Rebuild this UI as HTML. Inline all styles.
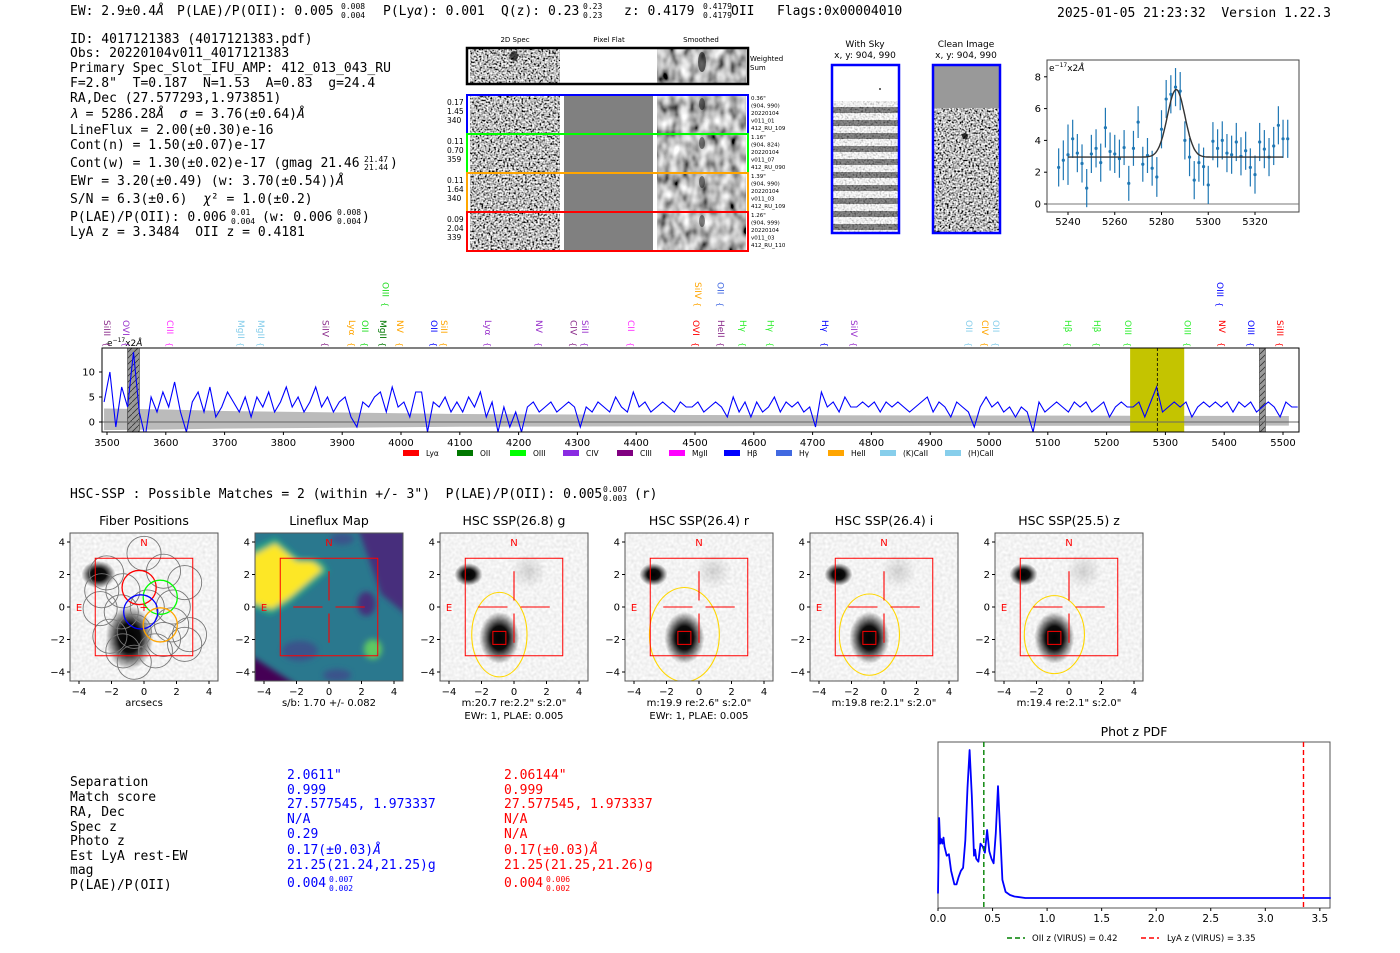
<!DOCTYPE html>
<html><head><meta charset="utf-8"><title>Detection 4017121383</title>
<style>
html,body{margin:0;padding:0;background:#fff;}
svg{display:block;}
.m{font-family:"DejaVu Sans Mono","Liberation Mono",monospace;font-size:13px;fill:#000;white-space:pre;}
.m.t{font-size:8px;}
.s{font-family:"DejaVu Sans","Liberation Sans",sans-serif;}
</style></head>
<body>
<svg id="root" width="1400" height="953" viewBox="0 0 1400 953" xmlns="http://www.w3.org/2000/svg" xml:space="preserve">
<defs>
<filter id="noise" x="0" y="0" width="100%" height="100%"><feTurbulence type="fractalNoise" baseFrequency="0.55" numOctaves="1" seed="4"/><feColorMatrix type="saturate" values="0"/><feComponentTransfer><feFuncR type="linear" slope="3.6" intercept="-1.3"/><feFuncG type="linear" slope="3.6" intercept="-1.3"/><feFuncB type="linear" slope="3.6" intercept="-1.3"/><feFuncA type="linear" slope="0" intercept="1"/></feComponentTransfer></filter>
<filter id="smooth" x="0" y="0" width="100%" height="100%"><feTurbulence type="fractalNoise" baseFrequency="0.1 0.07" numOctaves="2" seed="7"/><feColorMatrix type="saturate" values="0"/><feComponentTransfer><feFuncR type="linear" slope="2.2" intercept="-0.6"/><feFuncG type="linear" slope="2.2" intercept="-0.6"/><feFuncB type="linear" slope="2.2" intercept="-0.6"/><feFuncA type="linear" slope="0" intercept="1"/></feComponentTransfer></filter>
<filter id="light" x="0" y="0" width="100%" height="100%"><feTurbulence type="fractalNoise" baseFrequency="0.35" numOctaves="1" seed="2"/><feColorMatrix type="saturate" values="0"/><feComponentTransfer><feFuncR type="linear" slope="0.4" intercept="0.7"/><feFuncG type="linear" slope="0.4" intercept="0.7"/><feFuncB type="linear" slope="0.4" intercept="0.7"/><feFuncA type="linear" slope="0" intercept="1"/></feComponentTransfer></filter>
<filter id="blur3"><feGaussianBlur stdDeviation="3"/></filter>
<radialGradient id="blob"><stop offset="0" stop-color="#000"/><stop offset="0.45" stop-color="#000" stop-opacity="0.95"/><stop offset="1" stop-color="#000" stop-opacity="0"/></radialGradient>
<radialGradient id="dot"><stop offset="0" stop-color="#000"/><stop offset="1" stop-color="#000" stop-opacity="0"/></radialGradient>
<pattern id="stripes" width="10" height="13" patternUnits="userSpaceOnUse"><rect width="10" height="13" fill="#fff"/><rect y="3" width="10" height="6" fill="#555"/></pattern>
<pattern id="hatch" width="6" height="6" patternUnits="userSpaceOnUse"><rect width="6" height="6" fill="#999"/><path d="M0,6 L6,0" stroke="#333" stroke-width="0.8"/></pattern>
<clipPath id="specclip"><rect x="102" y="348" width="1197" height="84"/></clipPath>
<clipPath id="fitclip"><rect x="1047" y="60" width="252" height="152"/></clipPath>
</defs>

<g>
<text class="m" x="70" y="15">EW: 2.9±0.4<tspan font-style="italic">Å</tspan></text>
<text class="m" x="177" y="15">P(LAE)/P(OII): 0.005</text>
<text class="m t" x="341" y="9">0.008</text><text class="m t" x="341" y="18">0.004</text>
<text class="m" x="383" y="15">P(Ly<tspan font-style="italic">α</tspan>): 0.001</text>
<text class="m" x="501" y="15">Q(z): 0.23</text>
<text class="m t" x="583" y="9">0.23</text><text class="m t" x="583" y="18">0.23</text>
<text class="m" x="624" y="15">z: 0.4179</text>
<text class="m t" x="703" y="9">0.4179</text><text class="m t" x="703" y="18">0.4179</text>
<text class="m" x="731" y="15">OII</text>
<text class="m" x="777" y="15">Flags:0x00004010</text>
<text class="m" x="1057" y="17">2025-01-05 21:23:32  Version 1.22.3</text>
</g>

<g>
<text class="m" x="70" y="43">ID: 4017121383 (4017121383.pdf)</text>
<text class="m" x="70" y="57">Obs: 20220104v011_4017121383</text>
<text class="m" x="70" y="72">Primary Spec_Slot_IFU_AMP: 412_013_043_RU</text>
<text class="m" x="70" y="87">F=2.8"  T=0.187  N=1.53  A=0.83  g=24.4</text>
<text class="m" x="70" y="102">RA,Dec (27.577293,1.973851)</text>
<text class="m" x="70" y="118"><tspan font-style="italic">λ</tspan> = 5286.28<tspan font-style="italic">Å</tspan>  <tspan font-style="italic">σ</tspan> = 3.76(±0.64)<tspan font-style="italic">Å</tspan></text>
<text class="m" x="70" y="134">LineFlux = 2.00(±0.30)e-16</text>
<text class="m" x="70" y="149">Cont(n) = 1.50(±0.07)e-17</text>
<text class="m" x="70" y="167">Cont(w) = 1.30(±0.02)e-17 (gmag 21.46</text>
<text class="m t" x="364" y="162">21.47</text><text class="m t" x="364" y="170">21.44</text><text class="m" x="390" y="167">)</text>
<text class="m" x="70" y="185">EWr = 3.20(±0.49) (w: 3.70(±0.54))<tspan font-style="italic">Å</tspan></text>
<text class="m" x="70" y="203">S/N = 6.3(±0.6)  <tspan font-style="italic">χ</tspan>² = 1.0(±0.2)</text>
<text class="m" x="70" y="221">P(LAE)/P(OII): 0.006</text>
<text class="m t" x="231" y="215">0.01</text><text class="m t" x="231" y="224">0.004</text>
<text class="m" x="262" y="221">(w: 0.006</text>
<text class="m t" x="337" y="215">0.008</text><text class="m t" x="337" y="224">0.004</text><text class="m" x="362" y="221">)</text>
<text class="m" x="70" y="236">LyA z = 3.3484  OII z = 0.4181</text>
</g>

<g class="s">
<text x="515" y="42" font-size="7" text-anchor="middle">2D Spec</text>
<text x="609" y="42" font-size="7" text-anchor="middle">Pixel Flat</text>
<text x="701" y="42" font-size="7" text-anchor="middle">Smoothed</text>
<g>
<rect x="470" y="49" width="90" height="34" fill="#fff" filter="url(#noise)"/>
<rect x="657" y="49" width="89" height="34" fill="#fff" filter="url(#smooth)"/>
<ellipse cx="514" cy="56" rx="4" ry="5" fill="#000" opacity="0.7"/>
<ellipse cx="702" cy="62" rx="4" ry="10" fill="#000" opacity="0.55"/>
<rect x="467" y="48" width="281" height="36" fill="none" stroke="#000" stroke-width="2.5"/>
<text x="750" y="61" font-size="7">Weighted</text><text x="750" y="70" font-size="7">Sum</text>
</g>
<g id="rows"></g>
</g>

<g class="s">
<text x="865" y="47" font-size="9" text-anchor="middle">With Sky</text>
<text x="865" y="58" font-size="9" text-anchor="middle">x, y: 904, 990</text>
<rect x="832" y="65" width="67" height="168" fill="#fff"/>
<rect x="832" y="101" width="67" height="132" fill="url(#stripes)" opacity="0.9"/>
<rect x="832" y="101" width="67" height="132" fill="#fff" filter="url(#noise)" opacity="0.25"/>
<circle cx="880" cy="89" r="0.9" fill="#000"/>
<rect x="832" y="65" width="67" height="168" fill="none" stroke="#0000ff" stroke-width="2.5"/>
</g>
<g class="s">
<text x="966" y="47" font-size="9" text-anchor="middle">Clean Image</text>
<text x="966" y="58" font-size="9" text-anchor="middle">x, y: 904, 990</text>
<rect x="933" y="65" width="67" height="168" fill="#fff" filter="url(#noise)"/>
<rect x="933" y="65" width="67" height="43" fill="#999"/>
<circle cx="965" cy="136" r="3" fill="#000" opacity="0.8"/>
<rect x="933" y="65" width="67" height="168" fill="none" stroke="#0000ff" stroke-width="2.5"/>
</g>

<g class="s">
<rect x="1047" y="60" width="252" height="152" fill="#fff" stroke="#444" stroke-width="1"/>
<text x="1049" y="71" font-size="9">e<tspan font-size="6" dy="-4">−17</tspan><tspan dy="4">x2</tspan><tspan font-style="italic">Å</tspan></text>
<g id="fit"></g>
</g>

<g class="s">
<rect x="102" y="348" width="1197" height="84" fill="#fff"/>
<g id="spec" clip-path="url(#specclip)"></g>
<rect x="102" y="348" width="1197" height="84" fill="none" stroke="#000" stroke-width="1"/>
<text x="107" y="346" font-size="9">e<tspan font-size="6" dy="-4">−17</tspan><tspan dy="4">x2</tspan><tspan font-style="italic">Å</tspan></text>
<g id="speclabels"></g>
<g id="legend"></g>
</g>

<text class="m" x="70" y="498">HSC-SSP : Possible Matches = 2 (within +/- 3")  P(LAE)/P(OII): 0.005</text>
<text class="m t" x="603" y="492">0.007</text><text class="m t" x="603" y="501">0.003</text><text class="m" x="634" y="498">(r)</text>

<g id="cutouts" class="s"></g>

<g>
<text class="m" x="70" y="786">Separation</text>
<text class="m" x="70" y="801">Match score</text>
<text class="m" x="70" y="816">RA, Dec</text>
<text class="m" x="70" y="831">Spec z</text>
<text class="m" x="70" y="845">Photo z</text>
<text class="m" x="70" y="860">Est LyA rest-EW</text>
<text class="m" x="70" y="874">mag</text>
<text class="m" x="70" y="889">P(LAE)/P(OII)</text>
<g>
<text class="m" style="fill:#00f" x="287" y="779">2.0611"</text>
<text class="m" style="fill:#00f" x="287" y="794">0.999</text>
<text class="m" style="fill:#00f" x="287" y="808">27.577545, 1.973337</text>
<text class="m" style="fill:#00f" x="287" y="823">N/A</text>
<text class="m" style="fill:#00f" x="287" y="838">0.29</text>
<text class="m" style="fill:#00f" x="287" y="854">0.17(±0.03)<tspan font-style="italic">Å</tspan></text>
<text class="m" style="fill:#00f" x="287" y="869">21.25(21.24,21.25)g</text>
<text class="m" style="fill:#00f" x="287" y="887">0.004</text>
<text class="m t" style="fill:#00f" x="329" y="882">0.007</text><text class="m t" style="fill:#00f" x="329" y="891">0.002</text>
</g>
<g>
<text class="m" style="fill:#f00" x="504" y="779">2.06144"</text>
<text class="m" style="fill:#f00" x="504" y="794">0.999</text>
<text class="m" style="fill:#f00" x="504" y="808">27.577545, 1.973337</text>
<text class="m" style="fill:#f00" x="504" y="823">N/A</text>
<text class="m" style="fill:#f00" x="504" y="838">N/A</text>
<text class="m" style="fill:#f00" x="504" y="854">0.17(±0.03)<tspan font-style="italic">Å</tspan></text>
<text class="m" style="fill:#f00" x="504" y="869">21.25(21.25,21.26)g</text>
<text class="m" style="fill:#f00" x="504" y="887">0.004</text>
<text class="m t" style="fill:#f00" x="546" y="882">0.006</text><text class="m t" style="fill:#f00" x="546" y="891">0.002</text>
</g>
</g>

<g class="s">
<text x="1134" y="736" font-size="12.5" text-anchor="middle">Phot z PDF</text>
<rect x="938" y="742" width="392" height="166" fill="#fff" stroke="#555" stroke-width="1"/>
<g id="pdf"></g>
</g>
</svg>

<script>
const NS='http://www.w3.org/2000/svg';
function el(tag,parent){const e=document.createElementNS(NS,tag);parent.appendChild(e);return e;}
function sa(e,o){for(const k in o)e.setAttribute(k,o[k]);return e;}

// ---------- Spectrum data ----------
const specStart=3495, specStep=10;
const specFlux=[
4,10,-1,7,3,14,2,-3,5,2,
6,3,8,2,-2,4,6,2,7,1,
3,6,4,2,5,1,5,3,6,2,
4,7,3,5,2,4,7,3,5,2,
4,5,1,-1,4,3,5,6,2,7,
3,4,1,6,6,-2,4,3,5,2,
4,2,5,3,6,1,4,-2,3,-1,
2,-2,3,4,2,3,4,2,3,4,
3,-1,3,2,4,3,2,5,3,2,
6,3,4,2,3,4,3,2,4,3,
3,4,2,3,4,3,1,5,2,4,
1,4,2,3,5,2,4,3,4,2,
3,-1,6,3,4,2,5,3,3,4,
3,4,2,4,3,4,3,2,3,4,
5,2,4,3,1,4,3,2,-1,3,
5,3,4,2,3,1,3,2,-2,4,
2,3,4,3,2,4,3,4,2,3,
4,1,3,4,3,3,4,1,4,7,
2,3,4,3,4,1,3,4,3,4,
3,4,2,4,3,4,2,3,4,3,
1,4,3,3];
const errWave=[3495,3600,3700,3900,4100,4500,5000,5510];
const errVal=[2.7,2.5,2.2,1.9,1.6,1.4,1.3,1.2];
const specTicks=[3500,3600,3700,3800,3900,4000,4100,4200,4300,4400,4500,4600,4700,4800,4900,5000,5100,5200,5300,5400,5500];
const specYTicks=[0,5,10];
const lineName=['SiIII','OVI','CIII','MgII','MgII','SiIV','Lyα','OII','MgII','NV','OII','SiII','Lyα','NV','CIV','SiII','CII','OVI','HeII','Hγ','Hγ','Hγ','SiIV','OII','CIV','OII','Hβ','Hβ','OIII','OIII','NV','OIII','SiIII','OIII','SiIV','OII','OIII'];
const lineWave=[3500,3532,3607,3728,3762,3872,3917,3939,3969,3998,4056,4073,4148,4235,4293,4313,4391,4502,4544,4582,4628,4721,4770,4966,4993,5012,5134,5184,5236,5338,5396,5446,5495,3974,4505,4543,5393];
const lineColor=['#8b2c8b','#9932cc','#ff33ff','#87ceeb','#87ceeb','#8b2c8b','#ffa500','#22dd22','#007700','#ffa500','#0000ff','#ffa500','#9932cc','#9932cc','#8b2c8b','#9932cc','#ff33ff','#ff0000','#8b2c8b','#33ee33','#33ee33','#0000ff','#9932cc','#87ceeb','#ffa500','#87ceeb','#33ee33','#33ee33','#33ee33','#33ee33','#ff0000','#0000ff','#ff0000','#22dd22','#ffa500','#4169e1','#0000ff'];
const lineRow=[0,0,0,0,0,0,0,0,0,0,0,0,0,0,0,0,0,0,0,0,0,0,0,0,0,0,0,0,0,0,0,0,0,1,1,1,1];
const legendNames=['Lyα','OII','OIII','CIV','CIII','MgII','Hβ','Hγ','HeII','(K)CaII','(H)CaII'];
const legendColors=['#ff0000','#007700','#00ff00','#8a2be2','#800080','#ff00ff','#0000ff','#4169e1','#ffa500','#87ceeb','#87ceeb'];
const fitBand=[5240,5332], lineCenter=5286.28;
const maskBands=[[3535,3555],[5460,5470]];

const sx=w=>107+(w-3500)*0.588, sy=v=>422-5*v;
const spec=document.getElementById('spec');
let d='';
for(let i=0;i<errWave.length;i++)d+=(i?'L':'M')+sx(errWave[i])+','+sy(errVal[i]);
for(let i=errWave.length-1;i>=0;i--)d+='L'+sx(errWave[i])+','+sy(-errVal[i]*0.6);
let e=sa(el('path',spec),{d:d+'Z',fill:'#bbb'});

e=sa(el('rect',spec),{x:sx(fitBand[0]),y:348,width:sx(fitBand[1])-sx(fitBand[0]),height:84,fill:'#c4c400'});

maskBands.forEach(b=>{const r=sa(el('rect',spec),{x:sx(b[0]),y:348,width:sx(b[1])-sx(b[0]),height:84,fill:'url(#hatch)',stroke:'#333','stroke-width':0.6});
});
e=sa(el('line',spec),{x1:102,x2:1299,y1:sy(0),y2:sy(0),stroke:'#666','stroke-width':1});

d=specFlux.map((v,i)=>(i?'L':'M')+sx(specStart+i*specStep).toFixed(1)+','+sy(v).toFixed(1)).join('');
e=sa(el('path',spec),{d:d,fill:'none',stroke:'#0000ff','stroke-width':1.1});

e=sa(el('line',spec),{x1:sx(lineCenter),x2:sx(lineCenter),y1:348,y2:432,stroke:'#000','stroke-width':0.8,'stroke-dasharray':'3,2'});

const sg=spec.parentNode;
specTicks.forEach(t=>{const l=sa(el('line',sg),{x1:sx(t),x2:sx(t),y1:432,y2:435,stroke:'#000'});

const tx=sa(el('text',sg),{x:sx(t),y:446,'font-size':10,'text-anchor':'middle'});tx.textContent=t;
});
specYTicks.forEach(t=>{const l=sa(el('line',sg),{x1:99,x2:102,y1:sy(t),y2:sy(t),stroke:'#000'});

const tx=sa(el('text',sg),{x:95,y:sy(t)+3.5,'font-size':10,'text-anchor':'end'});tx.textContent=t;
});
const lab=document.getElementById('speclabels');
lineName.forEach((n,i)=>{const x=sx(lineWave[i]);const y0=lineRow[i]?282:320;
const t=sa(el('text',lab),{x:0,y:0,'font-size':9,fill:lineColor[i],transform:`translate(${x-3},${y0}) rotate(90)`});t.textContent=n;

const b=sa(el('text',lab),{x:0,y:0,'font-size':8,fill:lineColor[i],transform:`translate(${x-3},${y0+(lineRow[i]?20:22)}) rotate(90)`});b.textContent='{';
});
const leg=document.getElementById('legend');
const legX=[403,457,510,563,617,669,724,776,828,880,945];
legendNames.forEach((n,i)=>{const r=sa(el('rect',leg),{x:legX[i],y:450,width:16,height:6,fill:legendColors[i]});

const t=sa(el('text',leg),{x:legX[i]+23,y:456,'font-size':7.5});t.textContent=n;
});

// ---------- Fit chart ----------
const fitWave=[5236,5238,5240,5242,5244,5246,5248,5250,5252,5254,5256,5258,5260,5262,5264,5266,5268,5270,5272,5274,5276,5278,5280,5282,5284,5286,5288,5290,5292,5294,5296,5298,5300,5302,5304,5306,5308,5310,5312,5314,5316,5318,5320,5322,5324,5326,5328,5330,5332,5334];
const fitFlux=[2.3,2.75,3.1,4.1,3.2,2.55,1.0,3.15,3.5,2.6,4.8,3.3,3.15,2.85,3.55,1.3,3.5,5.15,2.5,3.05,2.25,1.7,4.7,6.6,6.9,7.35,7.1,4.0,2.95,1.5,2.6,2.35,1.2,3.95,3.5,4.0,3.2,3.1,3.9,3.0,3.35,2.3,1.85,3.9,3.45,2.95,3.65,4.95,4.1,4.1];
const fitErr=[1.2,1.25,1.9,1.2,1.2,1.2,1.2,1.2,1.2,1.2,1.25,1.2,1.2,1.2,1.1,1.1,1.1,1.0,1.1,1.1,1.1,1.25,1.2,1.2,1.2,1.2,1.2,1.2,1.2,1.2,1.2,1.2,1.2,1.2,1.2,1.2,1.2,1.2,1.2,1.2,1.2,1.2,1.2,1.2,1.2,1.2,1.2,1.2,1.2,1.2];
const modelCont=2.95, modelAmp=4.25, modelSigma=3.76;
const fitXTicks=[5240,5260,5280,5300,5320], fitYTicks=[0,2,4,6,8];
const fx=w=>1068+(w-5240)*2.3375, fy=v=>204-15.9*v;
const fit=document.getElementById('fit');
e=sa(el('line',fit),{x1:1047,x2:1299,y1:fy(0),y2:fy(0),stroke:'#777','stroke-width':1});

fitWave.forEach((w,i)=>{const l=sa(el('line',fit),{x1:fx(w),x2:fx(w),y1:fy(fitFlux[i]-fitErr[i]),y2:fy(fitFlux[i]+fitErr[i]),stroke:'#1f77b4','stroke-width':1.2,'clip-path':'url(#fitclip)'});

const c=sa(el('circle',fit),{cx:fx(w),cy:fy(fitFlux[i]),r:1.6,fill:'#1f77b4'});
});
d='';for(let w=fitBand[0],k=0;w<=fitBand[1];w+=0.5,k++){const v=modelCont+modelAmp*Math.exp(-((w-lineCenter)**2)/(2*modelSigma**2));d+=(k?'L':'M')+fx(w).toFixed(1)+','+fy(v).toFixed(1);}
e=sa(el('path',fit),{d:d,fill:'none',stroke:'#333','stroke-width':1.4});

fitXTicks.forEach(t=>{const l=sa(el('line',fit),{x1:fx(t),x2:fx(t),y1:212,y2:215,stroke:'#000'});

const tx=sa(el('text',fit),{x:fx(t),y:225,'font-size':10,'text-anchor':'middle'});tx.textContent=t;
});
fitYTicks.forEach(t=>{const l=sa(el('line',fit),{x1:1044,x2:1047,y1:fy(t),y2:fy(t),stroke:'#000'});

const tx=sa(el('text',fit),{x:1041,y:fy(t)+3.5,'font-size':10,'text-anchor':'end'});tx.textContent=t;
});

// ---------- 2D spec rows ----------
const rowColors=['#0000ff','#00ff00','#ffa500','#ff0000'];
const rowLeft=[['0.17','1.45','340'],['0.11','0.70','359'],['0.11','1.64','340'],['0.09','2.04','339']];
const rowRight=[['0.36"','(904, 990)','20220104','v011_01','412_RU_109'],['1.16"','(904, 824)','20220104','v011_07','412_RU_090'],['1.39"','(904, 990)','20220104','v011_03','412_RU_109'],['1.26"','(904, 999)','20220104','v011_03','412_RU_110']];
const rows=document.getElementById('rows');
const rowTop=[95,134,173,212];
rowColors.forEach((c,i)=>{const y=rowTop[i];
const g=el('g',rows);
sa(el('rect',g),{x:470,y:y+1,width:90,height:37,fill:'#fff',filter:'url(#noise)'});
sa(el('rect',g),{x:564,y:y+1,width:89,height:37,fill:'#808080'});
sa(el('rect',g),{x:657,y:y+1,width:89,height:37,fill:'#fff',filter:'url(#smooth)'});
sa(el('ellipse',g),{cx:702,cy:y+9,rx:3,ry:6,fill:'#000',opacity:0.45});
const r=sa(el('rect',g),{x:467,y:y,width:281,height:39,fill:'none',stroke:c,'stroke-width':2});

rowLeft[i].forEach((s,k)=>{const t=sa(el('text',g),{x:447,y:y+10+k*9,'font-size':7.5});t.textContent=s;});
rowRight[i].forEach((s,k)=>{const t=sa(el('text',g),{x:751,y:y+5+k*7.5,'font-size':5.5});t.textContent=s;});
});

// ---------- Cutouts ----------
const panelTitles=['Fiber Positions','Lineflux Map','HSC SSP(26.8) g','HSC SSP(26.4) r','HSC SSP(26.4) i','HSC SSP(25.5) z'];
const panelLeft=[70,255,440,625,810,995];
const panelCap1=['arcsecs','s/b: 1.70 +/- 0.082','m:20.7  re:2.2"  s:2.0"','m:19.9  re:2.6"  s:2.0"','m:19.8  re:2.1"  s:2.0"','m:19.4  re:2.1"  s:2.0"'];
const panelCap2=['','','EWr: 1, PLAE: 0.005','EWr: 1, PLAE: 0.005','',''];
const ellRx=[0,0,1.7,2.15,1.85,1.85], ellRy=[0,0,2.6,2.9,2.5,2.4];
const cutTicks=[-4,-2,0,2,4];
const fiberX=[0,-2.3,1.2,2.5,-2.6,-1.3,1.8,-2.7,-1.4,0.2,1.7,2.8,-2.1,-0.6,1.2,2.5,-1.3,0.7,-0.6];
const fiberY=[3.3,2.1,2.2,1.5,1.0,1.0,0.0,-0.1,-0.3,0.0,-1.1,-1.7,-1.8,-1.5,-2.0,-2.3,-2.7,-2.7,-3.4];
const colorFiberX=[-0.3,1.0,-0.2,1.0], colorFiberY=[1.2,0.6,-0.3,-1.1];
const colorFiberC=['#ff0000','#00ff00','#0000ff','#ffa500'];
const cut=document.getElementById('cutouts');
const U=16.25;
panelLeft.forEach((L,p)=>{const cx=L+74, cy=607;const ux=u=>cx+u*U, uy=u=>cy-u*U;
const g=el('g',cut);
const cp=sa(el('clipPath',g),{id:'cp'+p});sa(el('rect',cp),{x:L,y:533,width:148,height:148});
const ig=sa(el('g',g),{'clip-path':`url(#cp${p})`});
if(p===1){
 sa(el('rect',ig),{x:L,y:533,width:148,height:148,fill:'#2a788e'});
 const bg=sa(el('g',ig),{filter:'url(#blur3)'});
 sa(el('polygon',bg),{points:[[-4.8,3.6],[-3.3,4.3],[-1.8,3.0],[-0.5,2.9],[0,2.2],[-2.4,0.2],[-3.6,-0.5],[-4.8,0]].map(q=>ux(q[0])+','+uy(q[1])).join(' '),fill:'#22a884'});
 sa(el('polygon',bg),{points:[[-4.8,3.1],[-3.3,3.9],[-2,2.8],[-1,2.8],[-0.4,2.3],[-2.4,0.6],[-3.5,-0.1],[-4.8,0.3]].map(q=>ux(q[0])+','+uy(q[1])).join(' '),fill:'#fde725'});
 sa(el('polygon',bg),{points:[[1.8,4.8],[4.8,4.8],[4.8,-0.5],[3.2,0.8]].map(q=>ux(q[0])+','+uy(q[1])).join(' '),fill:'#472d7b'});
 sa(el('polygon',bg),{points:[[-4.8,-3],[-2,-4.8],[-4.8,-4.8]].map(q=>ux(q[0])+','+uy(q[1])).join(' '),fill:'#440154'});
 sa(el('ellipse',bg),{cx:ux(-1.8),cy:uy(-2.7),rx:18,ry:10,fill:'#3b528b'});
 sa(el('ellipse',bg),{cx:ux(2.3),cy:uy(0.2),rx:9,ry:12,fill:'#472d7b'});
 sa(el('ellipse',bg),{cx:ux(0.8),cy:uy(4.2),rx:12,ry:6,fill:'#3b528b'});
 sa(el('ellipse',bg),{cx:ux(2.7),cy:uy(-2.6),rx:9,ry:10,fill:'#5ec962'});
 sa(el('ellipse',bg),{cx:ux(0.5),cy:uy(-4.2),rx:14,ry:6,fill:'#3b528b'});
}else{
 sa(el('rect',ig),{x:L,y:533,width:148,height:148,fill:'#fff',filter:'url(#light)'});
 const s1=p===0?0.85:0.7;
 sa(el('ellipse',ig),{cx:ux(-2.8),cy:uy(2.0),rx:20*s1,ry:16*s1,fill:'url(#blob)'});
 sa(el('ellipse',ig),{cx:ux(-0.9),cy:uy(-1.9),rx:(p===0?24:20),ry:(p===0?32:26),fill:'url(#blob)'});
 if(p>1){sa(el('circle',ig),{cx:ux(0.9),cy:uy(2.2),r:18,fill:'url(#dot)',opacity:0.15});}
}
if(p===0){fiberX.forEach((x,i)=>{const c=sa(el('circle',ig),{cx:ux(x),cy:uy(fiberY[i]),r:U*1.05,fill:'none',stroke:'#777','stroke-width':0.9});
});
colorFiberX.forEach((x,i)=>{const c=sa(el('circle',ig),{cx:ux(x),cy:uy(colorFiberY[i]),r:U*1.05,fill:'none',stroke:colorFiberC[i],'stroke-width':1.3});
});
const pl=sa(el('text',ig),{x:ux(0),y:uy(0)+4,'font-size':11,fill:'#f00','text-anchor':'middle'});pl.textContent='+';}
if(p>1){const ell=sa(el('ellipse',ig),{cx:ux(-0.9),cy:uy(-1.7),rx:ellRx[p]*U,ry:ellRy[p]*U,fill:'none',stroke:'#ffd700','stroke-width':1.1});

const sq=sa(el('rect',ig),{x:ux(-1.3),y:uy(-1.5),width:0.8*U,height:0.8*U,fill:'none',stroke:'#f00','stroke-width':1});
}
const box=sa(el('rect',ig),{x:ux(-3),y:uy(3),width:6*U,height:6*U,fill:'none',stroke:'#f00','stroke-width':1});

if(p>0){[[-2.2,0,-0.4,0],[0.4,0,2.2,0],[0,2.2,0,0.4],[0,-0.4,0,-2.2]].forEach(s=>{const l=sa(el('line',ig),{x1:ux(s[0]),y1:uy(s[1]),x2:ux(s[2]),y2:uy(s[3]),stroke:'#f00','stroke-width':1.1});
});}
const N=sa(el('text',ig),{x:ux(0),y:uy(4)+4,'font-size':10,fill:'#f00','text-anchor':'middle'});N.textContent='N';
const E=sa(el('text',ig),{x:ux(-4),y:uy(0)+4,'font-size':10,fill:'#f00','text-anchor':'middle'});E.textContent='E';
sa(el('rect',g),{x:L,y:533,width:148,height:148,fill:'none',stroke:'#555','stroke-width':1});
const t=sa(el('text',g),{x:cx,y:525,'font-size':12.5,'text-anchor':'middle'});t.textContent=panelTitles[p];

cutTicks.forEach(v=>{sa(el('line',g),{x1:ux(v),x2:ux(v),y1:681,y2:684,stroke:'#000'});
const tx=sa(el('text',g),{x:ux(v),y:695,'font-size':10,'text-anchor':'middle'});tx.textContent=v<0?'−'+(-v):v;

sa(el('line',g),{x1:L-3,x2:L,y1:uy(v),y2:uy(v),stroke:'#000'});
const ty=sa(el('text',g),{x:L-5,y:uy(v)+3.5,'font-size':10,'text-anchor':'end'});ty.textContent=v<0?'−'+(-v):v;
});
const c1=sa(el('text',g),{x:cx,y:706,'font-size':10,'text-anchor':'middle'});c1.textContent=panelCap1[p];

if(panelCap2[p]){const c2=sa(el('text',g),{x:cx,y:719,'font-size':10,'text-anchor':'middle'});c2.textContent=panelCap2[p];
}
});

// ---------- Phot z PDF ----------
const pdfZ=[0.0,0.01,0.02,0.03,0.04,0.05,0.06,0.08,0.10,0.12,0.15,0.17,0.19,0.21,0.23,0.25,0.27,0.29,0.31,0.33,0.34,0.35,0.37,0.39,0.41,0.43,0.45,0.47,0.49,0.51,0.53,0.55,0.57,0.59,0.62,0.66,0.7,0.8,1.0,3.6];
const pdfP=[0.05,0.55,0.38,0.41,0.38,0.42,0.36,0.3,0.31,0.2,0.11,0.11,0.16,0.2,0.22,0.4,0.75,1.0,0.7,0.3,0.34,0.28,0.26,0.38,0.36,0.32,0.47,0.33,0.28,0.25,0.45,0.76,0.45,0.14,0.06,0.04,0.03,0.02,0.02,0.02];
const oiiZ=0.42, lyaZ=3.35;
const pdfTicks=[0,0.5,1,1.5,2,2.5,3,3.5];
const pdfTickLabels=['0.0','0.5','1.0','1.5','2.0','2.5','3.0','3.5'];
const px=z=>938+z*109.1, py=v=>901-151*v;
const pdf=document.getElementById('pdf');
d=pdfZ.map((z,i)=>(i?'L':'M')+px(z).toFixed(1)+','+py(pdfP[i]).toFixed(1)).join('');
e=sa(el('path',pdf),{d:d,fill:'none',stroke:'#0000ff','stroke-width':1.8,'stroke-linejoin':'round'});

e=sa(el('line',pdf),{x1:px(oiiZ),x2:px(oiiZ),y1:742,y2:908,stroke:'#008000','stroke-width':1.4,'stroke-dasharray':'5,3'});

e=sa(el('line',pdf),{x1:px(lyaZ),x2:px(lyaZ),y1:742,y2:908,stroke:'#ff0000','stroke-width':1.4,'stroke-dasharray':'5,3'});

pdfTicks.forEach((t,i)=>{sa(el('line',pdf),{x1:px(t),x2:px(t),y1:908,y2:911,stroke:'#000'});
const tx=sa(el('text',pdf),{x:px(t),y:922,'font-size':10.5,'text-anchor':'middle'});tx.textContent=pdfTickLabels[i];
});
e=sa(el('line',pdf),{x1:1007,x2:1025,y1:938,y2:938,stroke:'#008000','stroke-width':1.4,'stroke-dasharray':'5,3'});

e=sa(el('text',pdf),{x:1032,y:941,'font-size':8.5});e.textContent='OII z (VIRUS) = 0.42';

e=sa(el('line',pdf),{x1:1141,x2:1159,y1:938,y2:938,stroke:'#ff0000','stroke-width':1.4,'stroke-dasharray':'5,3'});

e=sa(el('text',pdf),{x:1167,y:941,'font-size':8.5});e.textContent='LyA z (VIRUS) = 3.35';

</script>
</body></html>
